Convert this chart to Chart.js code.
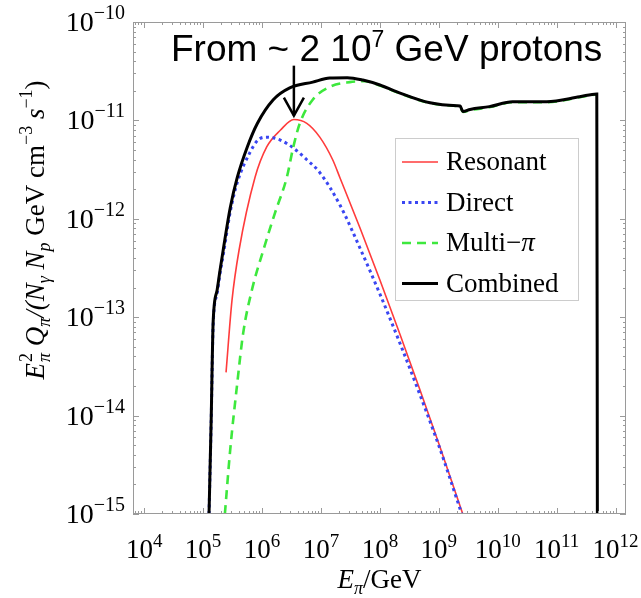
<!DOCTYPE html>
<html><head><meta charset="utf-8">
<script src="https://cdn.jsdelivr.net/npm/chart.js@4.4.0/dist/chart.umd.min.js"></script>
<style>html,body{margin:0;padding:0;background:#fff;}canvas{display:block;}</style>
</head><body>
<canvas id="c" width="641" height="598"></canvas>
<script>
// ---- data (E in GeV, E^2 Q in GeV cm^-3 s^-1 per N_gamma N_p) ----
const resonantE = [2.45e5, 3.09e5, 4.07e5, 7.59e5, 1.2e6, 2.04e6, 3.47e6, 5.75e6, 9.55e6, 1.58e7, 2.09e7, 4.58e7, 1e8, 2.18e8, 4.76e8, 1.04e9, 2.55e9];
const resonantQ = [2.75e-14, 1.48e-13, 4.79e-13, 2.63e-12, 5.37e-12, 7.94e-12, 1.02e-11, 9.33e-12, 6.76e-12, 3.98e-12, 2.63e-12, 8.11e-13, 2.39e-13, 6.75e-14, 1.84e-14, 4.85e-15, 1e-15];

const directE = [1.26e5, 1.37e5, 1.48e5, 1.73e5, 1.94e5, 2.19e5, 2.88e5, 3.8e5, 6.31e5, 8.51e5, 1.2e6, 2.04e6, 3.39e6, 5.75e6, 9.55e6, 2.1e7, 4.58e7, 1e8, 2.18e8, 4.76e8, 1.04e9, 2.45e9];
const directQ = [1e-15, 8.5e-15, 8.3e-14, 1.75e-13, 2.8e-13, 4.27e-13, 1.17e-12, 2.34e-12, 4.79e-12, 6.31e-12, 6.76e-12, 6.31e-12, 5.25e-12, 3.98e-12, 2.95e-12, 1.38e-12, 5.05e-13, 1.72e-13, 5.47e-14, 1.64e-14, 4.63e-15, 1e-15];

const multiE = [2.34e5, 2.88e5, 3.8e5, 4.79e5, 6.76e5, 1.05e6, 1.66e6, 2.63e6, 3.39e6, 4.37e6, 7.24e6, 1.41e7, 3.09e7, 5.62e7, 1e8, 1.95e8, 7.08e8, 2.04e9, 2.29e9, 2.57e9, 3.39e9, 7.2e9, 1.78e10, 6.76e10, 2.45e11, 4.79e11];
const multiQ = [1e-15, 4.47e-15, 2.14e-14, 6.92e-14, 1.91e-13, 4.79e-13, 1.15e-12, 2.63e-12, 5.37e-12, 9.33e-12, 1.62e-11, 2.19e-11, 2.45e-11, 2.5e-11, 2.26e-11, 1.93e-11, 1.5e-11, 1.4e-11, 1.38e-11, 1.22e-11, 1.27e-11, 1.36e-11, 1.53e-11, 1.53e-11, 1.72e-11, 1.84e-11];

const combinedE = [1.26e5, 1.37e5, 1.48e5, 1.73e5, 1.94e5, 2.19e5, 2.88e5, 3.8e5, 5.62e5, 8.32e5, 1.55e6, 2.95e6, 7.24e6, 1.41e7, 2.8e7, 5.13e7, 1e8, 1.95e8, 7.08e8, 2.04e9, 2.29e9, 2.57e9, 3.39e9, 7.2e9, 1.78e10, 6.76e10, 2.45e11, 4.79e11, 4.9e11];
const combinedQ = [1e-15, 9.0e-15, 8.9e-14, 1.89e-13, 3.02e-13, 4.8e-13, 1.29e-12, 2.63e-12, 5.37e-12, 9.3e-12, 1.62e-11, 2.14e-11, 2.45e-11, 2.69e-11, 2.72e-11, 2.57e-11, 2.29e-11, 1.95e-11, 1.51e-11, 1.41e-11, 1.4e-11, 1.23e-11, 1.29e-11, 1.38e-11, 1.55e-11, 1.55e-11, 1.74e-11, 1.86e-11, 1e-15];

const xTickExps = [4, 5, 6, 7, 8, 9, 10, 11, 12];
const yTickExps = [-15, -14, -13, -12, -11, -10];
const xRange = [6.46e3, 1.5e12];
const yRange = [1e-15, 1e-10];
const seriesLabels = ['Resonant', 'Direct', 'Multi\u2212\u03c0', 'Combined'];
const annotationE = 3.47e6, annotationTop = 3.6e-11, annotationTip = 1.12e-11;

// ---- helpers ----
const SERIF = '"Liberation Serif","Times New Roman",serif';
const SANS = '"Liberation Sans",Arial,Helvetica,sans-serif';
function fnt(sz, it) { return (it ? 'italic ' : '') + sz + 'px ' + SERIF; }
function segW(ctx, s) {
  ctx.font = s.font; let w = ctx.measureText(s.t).width;
  if (s.b !== undefined) { ctx.font = s.font2 || s.font; w = Math.max(w, ctx.measureText(s.b).width); }
  return w + (s.pad || 0);
}
function richW(ctx, segs) { return segs.reduce((a, s) => a + segW(ctx, s), 0); }
function drawRich(ctx, segs, x, y) {
  let cx = x;
  for (const s of segs) {
    const w = segW(ctx, s);
    ctx.font = s.font; ctx.fillText(s.t, cx, y + (s.dy || 0));
    if (s.b !== undefined) { ctx.font = s.font2 || s.font; ctx.fillText(s.b, cx, y + s.dy2); }
    cx += w;
  }
}
const pts = (E, Q) => E.map((e, i) => ({ x: e, y: Q[i] }));

const framePlugin = {
  id: 'frame',
  afterDatasetsDraw(chart) {
    const ctx = chart.ctx, a = chart.chartArea, xs = chart.scales.x, ys = chart.scales.y;
    ctx.save();
    ctx.strokeStyle = '#9a9a9a'; ctx.lineWidth = 1;
    ctx.strokeRect(a.left + 0.5, a.top + 0.5, a.right - a.left - 1, a.bottom - a.top - 1);
    ctx.beginPath();
    for (let k = 3; k <= 12; k++) {
      for (let m = 1; m <= 9; m++) {
        const v = m * Math.pow(10, k);
        if (v < xRange[0] || v > xRange[1]) continue;
        const px = Math.round(xs.getPixelForValue(v)) + 0.5;
        const len = m === 1 ? 6 : 3;
        ctx.moveTo(px, a.bottom); ctx.lineTo(px, a.bottom - len);
        ctx.moveTo(px, a.top); ctx.lineTo(px, a.top + len);
      }
    }
    for (let k = -16; k <= -10; k++) {
      for (let m = 1; m <= 9; m++) {
        const v = m * Math.pow(10, k);
        if (v < yRange[0] * 0.999 || v > yRange[1] * 1.001) continue;
        const py = Math.round(ys.getPixelForValue(v)) + 0.5;
        const len = m === 1 ? 6 : 3;
        ctx.moveTo(a.left, py); ctx.lineTo(a.left + len, py);
        ctx.moveTo(a.right, py); ctx.lineTo(a.right - len, py);
      }
    }
    ctx.stroke();

    ctx.fillStyle = '#000'; ctx.textBaseline = 'alphabetic'; ctx.textAlign = 'left';
    for (const e of xTickExps) {
      const segs = [{ t: '10', font: fnt(27) }, { t: String(e), font: fnt(19), dy: -11 }];
      const w = richW(ctx, segs);
      const px = xs.getPixelForValue(Math.pow(10, e));
      drawRich(ctx, segs, px - w / 2, 558);
    }
    for (const e of yTickExps) {
      const segs = [{ t: '10', font: fnt(28) }, { t: '\u2212' + String(-e), font: fnt(20), dy: -12 }];
      const w = richW(ctx, segs);
      const py = ys.getPixelForValue(Math.pow(10, e));
      drawRich(ctx, segs, 125 - w, py + 9);
    }
    const xt = [{ t: 'E', font: fnt(27, true) }, { t: '\u03c0', font: fnt(18, true), dy: 6 }, { t: '/GeV', font: fnt(27) }];
    drawRich(ctx, xt, (a.left + a.right) / 2 - richW(ctx, xt) / 2, 588);
    const yt = [
      { t: 'E', font: fnt(27, true), pad: 1 },
      { t: '2', font: fnt(18), dy: -12, b: '\u03c0', font2: fnt(18, true), dy2: 6 },
      { t: ' Q', font: fnt(27, true) },
      { t: '\u03c0', font: fnt(18, true), dy: 6 },
      { t: '/(N', font: fnt(27, true) },
      { t: '\u03b3', font: fnt(18, true), dy: 6 },
      { t: ' N', font: fnt(27, true) },
      { t: 'p', font: fnt(18, true), dy: 6 },
      { t: ' GeV cm', font: fnt(27) },
      { t: '\u22123', font: fnt(18), dy: -12 },
      { t: ' s', font: fnt(27, true) },
      { t: '\u22121', font: fnt(18), dy: -12 },
      { t: ')', font: fnt(27) }
    ];
    ctx.save();
    ctx.translate(44, 230); ctx.rotate(-Math.PI / 2);
    drawRich(ctx, yt, -richW(ctx, yt) / 2, 0);
    ctx.restore();

    const at = [{ t: 'From ~ 2 10', font: '37px ' + SANS }, { t: '7', font: '23px ' + SANS, dy: -14 }, { t: ' GeV protons', font: '37px ' + SANS }];
    drawRich(ctx, at, 171, 61);
    const ax = xs.getPixelForValue(annotationE), ay0 = ys.getPixelForValue(annotationTop), ay1 = ys.getPixelForValue(annotationTip);
    ctx.strokeStyle = '#000'; ctx.lineWidth = 2.5; ctx.lineCap = 'butt';
    ctx.beginPath(); ctx.moveTo(ax, ay0); ctx.lineTo(ax, ay1); ctx.stroke();
    ctx.beginPath(); ctx.moveTo(ax - 10, ay1 - 18); ctx.lineTo(ax, ay1); ctx.lineTo(ax + 10, ay1 - 18); ctx.stroke();

    const lx = 395.5, ly = 138.5, lw = 183, lh = 162;
    ctx.fillStyle = '#fff'; ctx.fillRect(lx, ly, lw, lh);
    ctx.strokeStyle = '#cccccc'; ctx.lineWidth = 1; ctx.strokeRect(lx, ly, lw, lh);
    chart.data.datasets.forEach((ds, i) => {
      const yy = 162 + i * 40.5;
      ctx.save();
      ctx.strokeStyle = ds.borderColor; ctx.lineWidth = ds.borderWidth; ctx.setLineDash(ds.borderDash || []);
      ctx.beginPath(); ctx.moveTo(402, yy); ctx.lineTo(438, yy); ctx.stroke();
      ctx.restore();
      ctx.fillStyle = '#000';
      const lab = ds.label;
      if (lab.endsWith('\u03c0')) {
        drawRich(ctx, [{ t: lab.slice(0, -1), font: fnt(27) }, { t: '\u03c0', font: fnt(27, true) }], 446, yy + 8);
      } else {
        ctx.font = fnt(27); ctx.fillText(lab, 446, yy + 8);
      }
    });
    ctx.restore();
  }
};

new Chart(document.getElementById('c'), {
  type: 'line',
  data: {
    datasets: [
      { label: seriesLabels[0], data: pts(resonantE, resonantQ), borderColor: '#ff3b3b', borderWidth: 1.6, order: 4 },
      { label: seriesLabels[1], data: pts(directE, directQ), borderColor: '#3a46f2', borderWidth: 3, borderDash: [3, 3.5], order: 3 },
      { label: seriesLabels[2], data: pts(multiE, multiQ), borderColor: '#3de83d', borderWidth: 2.6, borderDash: [9, 6], order: 2 },
      { label: seriesLabels[3], data: pts(combinedE, combinedQ), borderColor: '#000000', borderWidth: 3, order: 1 }
    ]
  },
  options: {
    responsive: false, animation: false, devicePixelRatio: 1,
    layout: { padding: { left: 133, right: 15, top: 22, bottom: 84 } },
    elements: { point: { radius: 0 }, line: { cubicInterpolationMode: 'monotone', fill: false } },
    plugins: { legend: { display: false }, tooltip: { enabled: false } },
    scales: {
      x: { type: 'logarithmic', min: xRange[0], max: xRange[1], display: false },
      y: { type: 'logarithmic', min: yRange[0], max: yRange[1], display: false }
    }
  },
  plugins: [framePlugin]
});
</script>
</body></html>
